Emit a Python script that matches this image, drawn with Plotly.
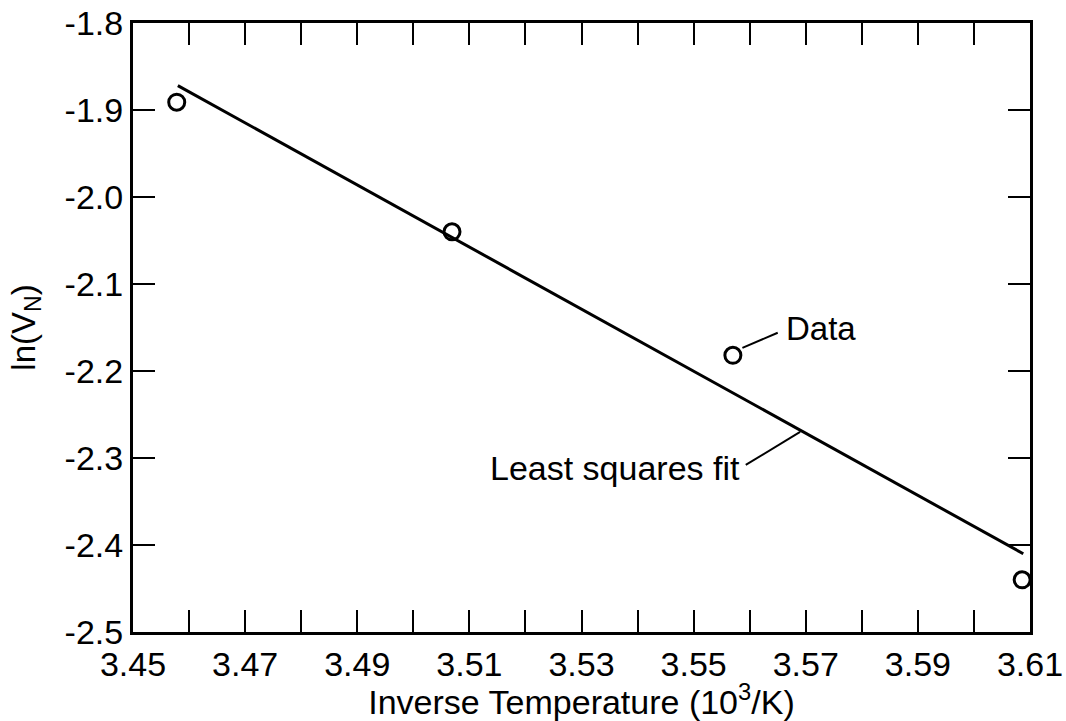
import plotly.graph_objects as go

# Data
inv_temp = [3.4578, 3.5069, 3.5570, 3.6086]
ln_vn = [-1.891, -2.040, -2.182, -2.440]

fit_x = [3.4580, 3.6088]
fit_y = [-1.872, -2.410]

x_tickvals = [3.45, 3.47, 3.49, 3.51, 3.53, 3.55, 3.57, 3.59, 3.61]
x_ticktext = ["3.45", "3.47", "3.49", "3.51", "3.53", "3.55", "3.57", "3.59", "3.61"]
x_minor_tickvals = [3.46, 3.48, 3.50, 3.52, 3.54, 3.56, 3.58, 3.60]
y_tickvals = [-1.8, -1.9, -2.0, -2.1, -2.2, -2.3, -2.4, -2.5]
y_ticktext = ["-1.8", "-1.9", "-2.0", "-2.1", "-2.2", "-2.3", "-2.4", "-2.5"]

# Annotation label anchors and leader lines (data coordinates)
data_label = {"text": "Data", "x": 3.5662, "y": -2.151}
data_leader = {"x0": 3.5587, "y0": -2.1735, "x1": 3.5650, "y1": -2.1560}
fit_label = {"text": "Least squares fit", "x": 3.5586, "y": -2.312}
fit_leader = {"x0": 3.5593, "y0": -2.3080, "x1": 3.5690, "y1": -2.2700}

FONT = "Liberation Sans"

fig = go.Figure()
fig.add_trace(go.Scatter(x=fit_x, y=fit_y, mode="lines",
                         line=dict(color="black", width=3), showlegend=False))
fig.add_trace(go.Scatter(x=inv_temp, y=ln_vn, mode="markers",
                         marker=dict(symbol="circle-open", size=16, color="black",
                                     line=dict(width=3, color="black")),
                         showlegend=False))

for ld in (data_leader, fit_leader):
    fig.add_shape(type="line", xref="x", yref="y", **ld,
                  line=dict(color="black", width=2))

fig.add_annotation(x=data_label["x"], y=data_label["y"], text=data_label["text"],
                   xanchor="left", yanchor="middle", showarrow=False,
                   font=dict(family=FONT, size=33, color="black"))
fig.add_annotation(x=fit_label["x"], y=fit_label["y"], text=fit_label["text"],
                   xanchor="right", yanchor="middle", showarrow=False,
                   font=dict(family=FONT, size=34, color="black"))

axis_common = dict(showline=True, linecolor="black", linewidth=3, mirror="ticks",
                   ticks="inside", tickcolor="black", tickwidth=2, ticklen=22,
                   showgrid=False, zeroline=False,
                   tickfont=dict(family=FONT, size=34, color="black"))

fig.update_xaxes(range=[3.45, 3.61], tickmode="array", tickvals=x_tickvals,
                 ticktext=x_ticktext,
                 minor=dict(tickmode="array", tickvals=x_minor_tickvals,
                            ticks="inside", ticklen=22, tickwidth=2,
                            tickcolor="black", showgrid=False),
                 title=dict(text="Inverse Temperature (10<sup>3</sup>/K)",
                            font=dict(family=FONT, size=34, color="black"),
                            standoff=2),
                 **axis_common)
fig.update_yaxes(range=[-2.5, -1.8], tickmode="array", tickvals=y_tickvals,
                 ticktext=y_ticktext,
                 title=dict(text="ln(V<sub>N</sub>)",
                            font=dict(family=FONT, size=33, color="black"),
                            standoff=20),
                 **axis_common)

fig.update_layout(width=1066, height=721, paper_bgcolor="white", plot_bgcolor="white",
                  margin=dict(l=133, r=36, t=23, b=89, autoexpand=False))

fig.write_html("out.html")
